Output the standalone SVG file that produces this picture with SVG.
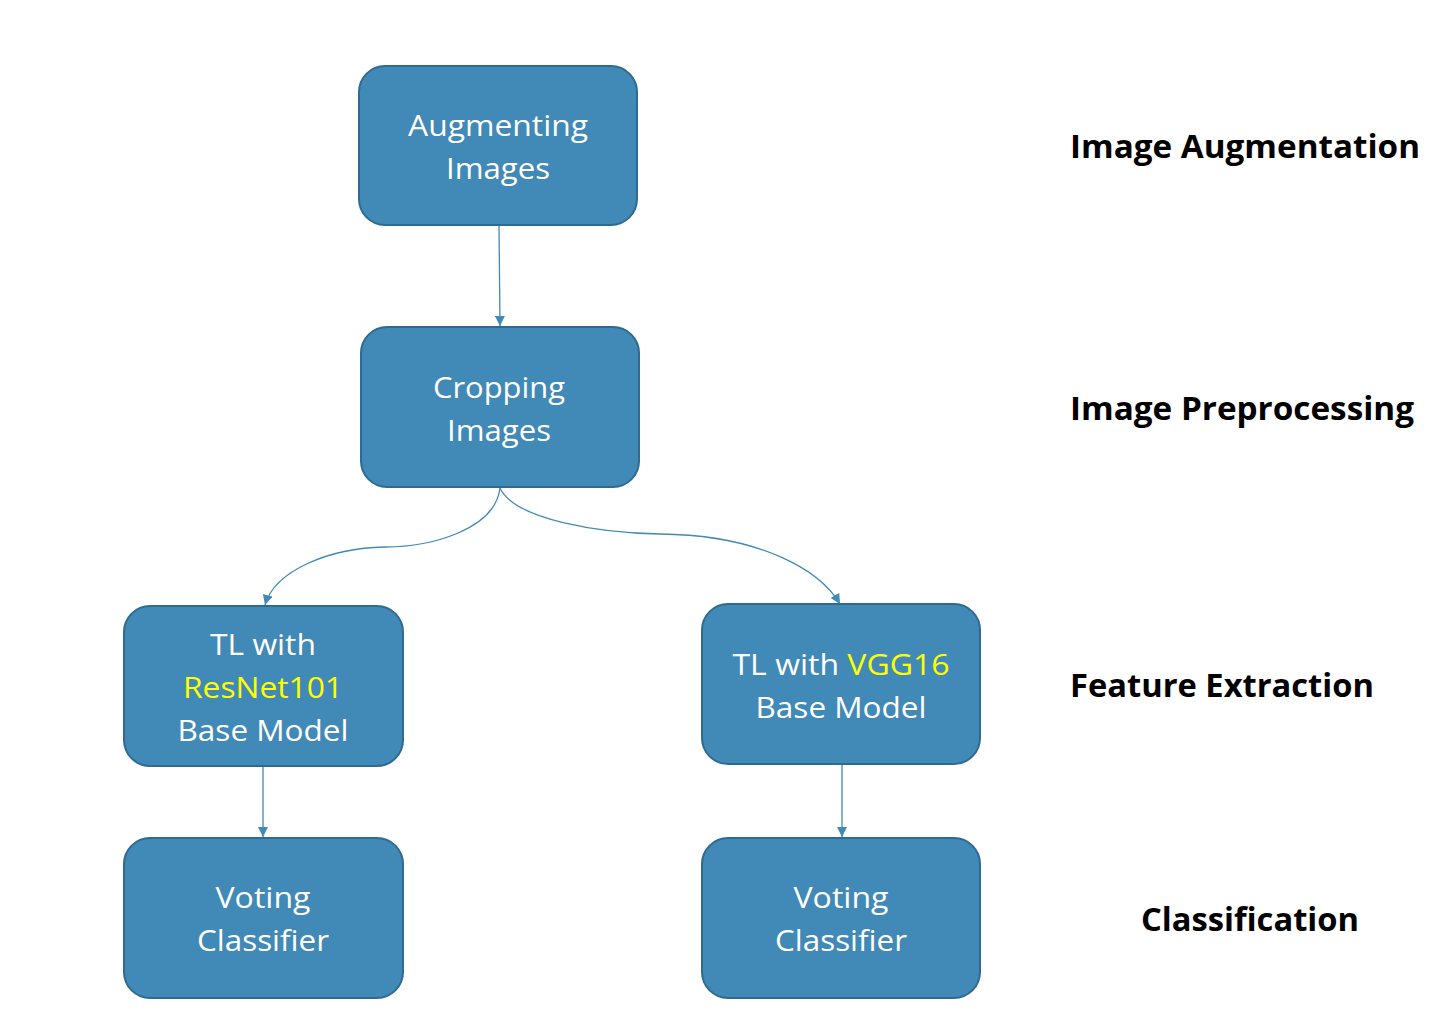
<svg xmlns="http://www.w3.org/2000/svg" width="1442" height="1012" viewBox="0 0 1442 1012">
<style>
.box{fill:#4189b6;stroke:#2f6b90;stroke-width:2}
.t{font-family:"Open Sans","Liberation Sans",sans-serif;font-size:29px;fill:#ffffff;text-anchor:middle}
.y{fill:#ffff00}
.lab{font-family:"Open Sans","Liberation Sans",sans-serif;font-size:32px;font-weight:bold;fill:#000000}
.c{fill:none;stroke:#4189b6;stroke-width:1.3}
</style>
<defs>
<marker id="ah" viewBox="0 0 10 10" refX="10" refY="5" markerWidth="10" markerHeight="10" markerUnits="userSpaceOnUse" orient="auto">
<path d="M0,0 L10,5 L0,10 z" fill="#4189b6"/>
</marker>
</defs>
<rect width="1442" height="1012" fill="#ffffff"/>
<g id="connectors">
<path class="c" d="M499,225 L500,326" marker-end="url(#ah)"/>
<path class="c" d="M500,488 C495,530 430,547 385,547 C330,548 275,570 265,605" marker-end="url(#ah)"/>
<path class="c" d="M500,488 C515,520 600,533 660,534 C760,535 820,570 840,604" marker-end="url(#ah)"/>
<path class="c" d="M263,766 L263,837" marker-end="url(#ah)"/>
<path class="c" d="M842,764 L842,837" marker-end="url(#ah)"/>
</g>
<g id="augment">
<rect class="box" x="359" y="66" width="278" height="159" rx="26"/>
<text class="t" x="498" y="136" textLength="180" lengthAdjust="spacingAndGlyphs">Augmenting</text>
<text class="t" x="498" y="179" textLength="104" lengthAdjust="spacingAndGlyphs">Images</text>
</g>
<g id="crop">
<rect class="box" x="361" y="327" width="278" height="160" rx="26"/>
<text class="t" x="499" y="398" textLength="132" lengthAdjust="spacingAndGlyphs">Cropping</text>
<text class="t" x="499" y="441" textLength="104" lengthAdjust="spacingAndGlyphs">Images</text>
</g>
<g id="resnet">
<rect class="box" x="124" y="606" width="279" height="160" rx="26"/>
<text class="t" x="263" y="655" textLength="106" lengthAdjust="spacingAndGlyphs">TL with</text>
<text class="t y" x="263" y="698" textLength="160" lengthAdjust="spacingAndGlyphs">ResNet101</text>
<text class="t" x="263" y="741" textLength="171" lengthAdjust="spacingAndGlyphs">Base Model</text>
</g>
<g id="vgg">
<rect class="box" x="702" y="604" width="278" height="160" rx="26"/>
<text class="t" x="841" y="675" textLength="217" lengthAdjust="spacingAndGlyphs">TL with <tspan class="y">VGG16</tspan></text>
<text class="t" x="841" y="718" textLength="171" lengthAdjust="spacingAndGlyphs">Base Model</text>
</g>
<g id="vote-left">
<rect class="box" x="124" y="838" width="279" height="160" rx="26"/>
<text class="t" x="263" y="908" textLength="95" lengthAdjust="spacingAndGlyphs">Voting</text>
<text class="t" x="263" y="951" textLength="132" lengthAdjust="spacingAndGlyphs">Classifier</text>
</g>
<g id="vote-right">
<rect class="box" x="702" y="838" width="278" height="160" rx="26"/>
<text class="t" x="841" y="908" textLength="95" lengthAdjust="spacingAndGlyphs">Voting</text>
<text class="t" x="841" y="951" textLength="132" lengthAdjust="spacingAndGlyphs">Classifier</text>
</g>
<g id="stage-labels">
<text class="lab" x="1070" y="158" textLength="350" lengthAdjust="spacingAndGlyphs">Image Augmentation</text>
<text class="lab" x="1070" y="420" textLength="344" lengthAdjust="spacingAndGlyphs">Image Preprocessing</text>
<text class="lab" x="1070" y="697" textLength="304" lengthAdjust="spacingAndGlyphs">Feature Extraction</text>
<text class="lab" x="1141" y="931" textLength="218" lengthAdjust="spacingAndGlyphs">Classification</text>
</g>
</svg>
